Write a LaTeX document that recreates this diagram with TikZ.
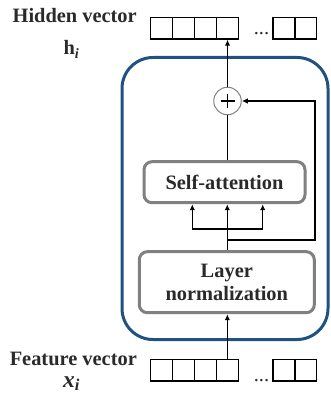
\documentclass[tikz,border=0pt]{standalone}
\usepackage{fontspec}
\setmainfont{Liberation Serif}
\usetikzlibrary{arrows.meta,calc}
\definecolor{blockblue}{HTML}{1F5282}
\definecolor{boxgray}{HTML}{808080}
\definecolor{txt}{HTML}{2A2A2A}
\begin{document}
\begin{tikzpicture}[x=1pt,y=-1pt,
  lbl/.style={font=\fontsize{20.4}{23.3}\selectfont\bfseries, text=txt, inner sep=0pt},
  cell/.style={draw=black, line width=1.3pt, minimum width=21.9pt, minimum height=21.7pt, inner sep=0pt},
  stage/.style={draw=boxgray, line width=3pt, rounded corners=8pt, fill=white,
    font=\fontsize{20.4}{23.3}\selectfont\bfseries, text=txt, align=center, inner sep=0pt},
  conn/.style={line width=1.2pt, black},
  arr/.style={conn, -{Latex[length=6pt,width=5.5pt]}},
  dots/.style={font=\fontsize{20.4}{24}\selectfont, text=txt, inner sep=0pt, anchor=base}
]
\useasboundingbox (0,0) rectangle (331,393);

% encoder block outline
\node[draw=blockblue, line width=3pt, rounded corners=31pt,
      minimum width=206pt, minimum height=282pt] (block) at (225,198.5) {};

% output vector h_i
\foreach \i/\x in {1/161.65,2/183.55,3/205.45,4/227.35,5/284.0,6/305.3}
  \node[cell] (t\i) at (\x,28.2) {};
\node[dots] (tdots) at (261.5,35) {...};

% input vector x_i
\foreach \i/\x in {1/161.65,2/183.55,3/205.45,4/227.35,5/284.0,6/305.3}
  \node[cell] (b\i) at (\x,370) {};
\node[dots] (bdots) at (261.5,381) {...};

% labels
\node[lbl, anchor=base] (hlab) at (74.7,22.7) {Hidden vector};
\node[lbl, anchor=base] (hsym) at (71.5,55) {h\textsubscript{\itshape i}};
\node[lbl, anchor=base] (flab) at (73.3,365.5) {Feature vector};
\node[lbl, anchor=base, font=\fontsize{23.5}{26}\selectfont\bfseries\itshape] (xsym) at (71.5,387) {x\textsubscript{i}};

% processing stages
\node[stage, minimum width=161pt, minimum height=41pt] (sa) at (224.5,182.2) {Self-attention};
\node[stage, minimum width=175pt, minimum height=61pt] (ln) at (226.8,282.2) {Layer\\normalization};

% residual sum
\node[circle, draw=boxgray, line width=1pt, minimum size=27.5pt, inner sep=0pt, fill=white] (plus) at (227.5,101) {};
\draw[line width=1.3pt] ($(plus.center)+(-7,0)$) -- ($(plus.center)+(7,0)$)
                        ($(plus.center)+(0,-7)$) -- ($(plus.center)+(0,7)$);

% connectors
\draw[arr] (b4.north) -- (b4.north |- ln.south);
\coordinate (stem) at (227.3,229);
\coordinate (bl) at (192.3,229);
\coordinate (br) at (262.7,229);
\coordinate (fb) at (227.3,240);
\coordinate (fr) at (315,240);
\draw[arr] (stem |- ln.north) -- (stem |- sa.south);
\draw[conn] (bl) -- (br);
\draw[arr] (bl) -- (bl |- sa.south);
\draw[arr] (br) -- (br |- sa.south);
\draw[arr] (fb) -- (fr) |- (plus.east);
\draw[conn] (plus.south |- sa.north) -- (plus.south);
\draw[arr] (plus.north) -- (plus.north |- t4.south);
\end{tikzpicture}
\end{document}
